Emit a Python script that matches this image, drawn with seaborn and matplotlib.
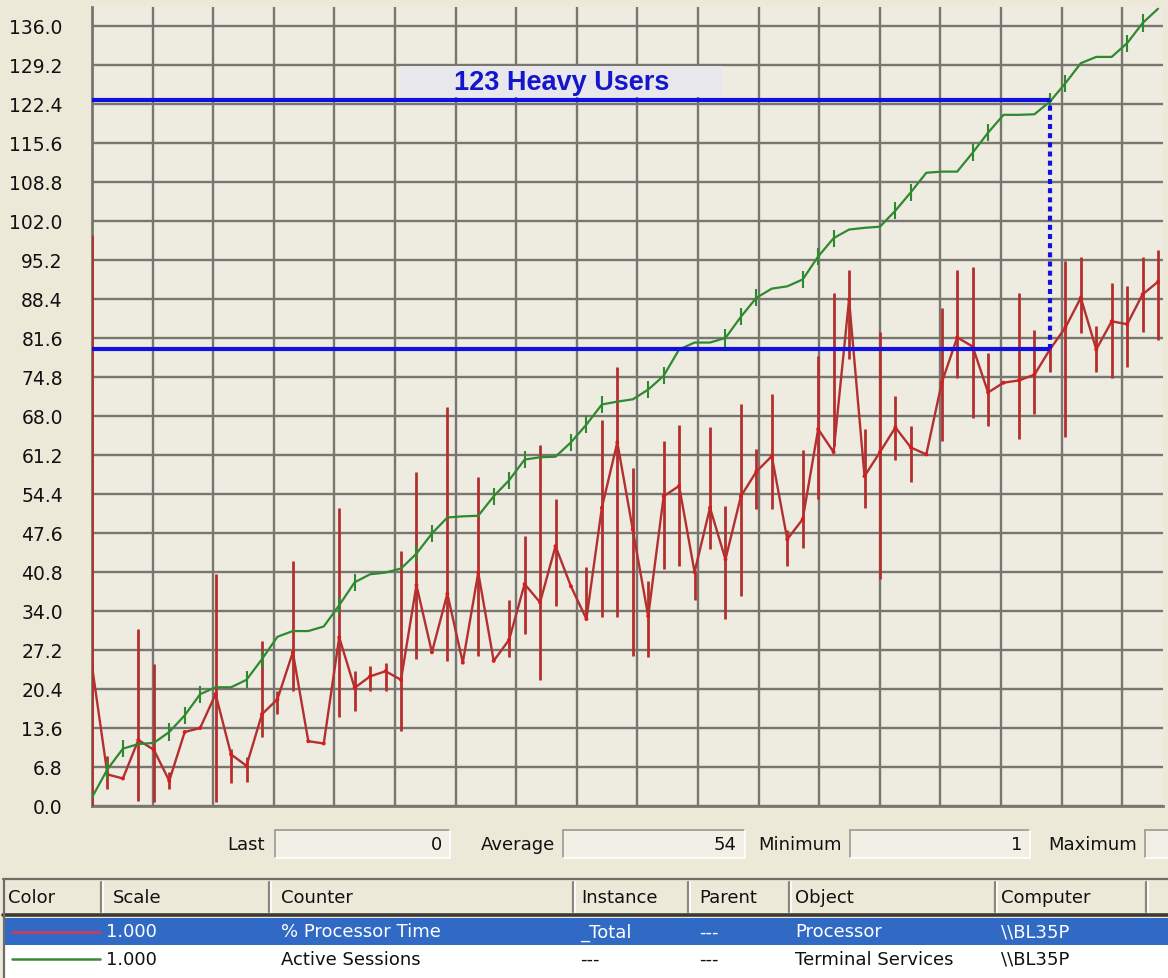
import numpy as np
import pandas as pd
import matplotlib
matplotlib.use("Agg")
import matplotlib.pyplot as plt
import seaborn as sns
from matplotlib.patches import Rectangle
from matplotlib.lines import Line2D

# ---------------- data ----------------
y_tick_values = [0.0, 6.8, 13.6, 20.4, 27.2, 34.0, 40.8, 47.6, 54.4, 61.2, 68.0,
                 74.8, 81.6, 88.4, 95.2, 102.0, 108.8, 115.6, 122.4, 129.2, 136.0]

# % Processor Time, one value per sample
cpu_time = [24.4, 5.5, 4.8, 11.5, 9.8, 4.4, 12.9, 13.6, 19.5, 9.0,
            7.0, 16.0, 18.6, 26.8, 11.3, 10.9, 29.4, 20.6, 22.6, 23.5,
            22.0, 38.5, 26.8, 37.0, 25.0, 40.7, 25.3, 29.0, 38.7, 35.5,
            45.3, 38.3, 32.6, 52.0, 63.4, 48.2, 33.1, 54.0, 55.8, 40.8,
            52.0, 43.0, 54.0, 58.3, 61.0, 46.5, 50.0, 65.7, 61.7, 88.3,
            57.5, 61.7, 66.0, 62.5, 61.3, 73.8, 81.7, 80.1, 72.1, 73.8,
            74.2, 75.2, 79.6, 83.4, 88.6, 79.6, 84.5, 84.0, 89.2, 91.4]

# Active Sessions, one value per sample
sessions = [1.5, 6.4, 10.0, 10.8, 11.0, 12.9, 15.8, 19.5, 20.7, 20.7,
            22.0, 25.6, 29.5, 30.5, 30.5, 31.3, 35.0, 39.0, 40.4, 40.7,
            41.4, 44.0, 47.5, 50.3, 50.5, 50.6, 54.0, 56.8, 60.4, 60.8,
            60.9, 63.4, 66.5, 70.0, 70.5, 70.9, 72.6, 75.0, 79.6, 80.8,
            80.8, 81.6, 85.3, 88.6, 90.2, 90.6, 91.8, 95.8, 99.0, 100.5,
            100.8, 101.0, 103.8, 107.0, 110.4, 110.6, 110.6, 113.9, 117.4, 120.5,
            120.5, 120.6, 122.8, 126.0, 129.5, 130.6, 130.6, 133.0, 136.5, 139.0]

# min/max excursions of % Processor Time within a sample interval
cpu_spike_idx = [0, 1, 3, 4, 5, 8, 9, 10, 11, 12, 13, 16, 17, 18, 19, 20, 21,
                 23, 25, 27, 28, 29, 30, 32, 33, 34, 35, 36, 37, 38, 39, 40, 41,
                 42, 43, 44, 45, 46, 47, 48, 49, 50, 51, 52, 53, 55, 56, 57, 58,
                 60, 61, 62, 63, 64, 65, 66, 67, 68, 69]
cpu_spike_high = [99.6, 8.7, 30.8, 24.7, 6.0, 40.5, 10.0, 8.5, 28.7, 20.0, 42.7,
                  52.0, 23.5, 24.4, 25.0, 44.4, 58.2, 69.5, 57.3, 36.0, 47.0, 63.0,
                  53.5, 41.6, 67.3, 76.6, 59.0, 39.2, 63.6, 66.5, 40.8, 66.0, 52.3,
                  70.0, 62.2, 71.8, 48.2, 62.0, 78.4, 89.5, 93.5, 65.7, 82.7, 71.4,
                  66.2, 86.9, 93.5, 93.9, 79.0, 89.5, 83.0, 80.0, 95.0, 95.8, 83.6,
                  91.2, 90.6, 95.8, 97.0]
cpu_spike_low = [0.0, 3.0, 0.9, 0.7, 3.0, 0.7, 4.0, 4.2, 12.0, 16.0, 20.0,
                 15.5, 16.5, 20.0, 20.0, 13.0, 25.6, 25.3, 26.1, 26.0, 30.0, 22.0,
                 34.8, 32.6, 32.9, 33.0, 26.1, 26.0, 41.3, 41.8, 36.0, 44.8, 32.6,
                 36.6, 51.7, 51.7, 41.8, 45.0, 53.5, 62.7, 78.0, 52.0, 39.5, 60.4,
                 56.4, 63.6, 74.7, 67.7, 66.2, 63.9, 68.3, 75.6, 64.4, 82.5, 75.6,
                 74.7, 76.6, 82.7, 81.3]

# small excursions of Active Sessions
session_tick_idx = [1, 2, 5, 6, 7, 10, 11, 16, 17, 21, 22, 26, 27, 28, 31, 32, 33,
                    36, 37, 41, 42, 43, 46, 47, 48, 52, 53, 57, 58, 62, 63, 67, 68]
session_tick_half = 1.5

heavy_users = 123.0
cpu_at_heavy = 79.6
heavy_sample = 62
annotation_text = "123 Heavy Users"

stats_labels = ["Last", "Average", "Minimum", "Maximum"]
stats_values = ["0", "54", "1", ""]

table_columns = ["Color", "Scale", "Counter", "Instance", "Parent", "Object", "Computer"]
table_rows = [
    ["1.000", "% Processor Time", "_Total", "---", "Processor", "\\\\BL35P"],
    ["1.000", "Active Sessions", "---", "---", "Terminal Services", "\\\\BL35P"],
]

# ---------------- style ----------------
BG = "#ECE9D8"
PLOT_BG = "#EEEBE1"
GRID = "#77776f"
RED = "#b3302f"
RED_DOT = "#e01818"
GREEN = "#2f8a2f"
BLUE = "#1010e0"
SEL = "#316AC5"

sns.set_style("white")
plt.rcParams["font.family"] = ["DejaVu Sans"]

W, H = 1168, 979
fig = plt.figure(figsize=(W / 100, H / 100), dpi=100, facecolor=BG)


def fx(px):
    return px / W


def fy(py):
    return 1 - py / H


ax_left, ax_right, ax_top, ax_bottom = 92, 1163, 8, 807
ax = fig.add_axes([fx(ax_left), fy(ax_bottom), fx(ax_right) - fx(ax_left), fy(ax_top) - fy(ax_bottom)])
ax.set_facecolor(PLOT_BG)

n = len(cpu_time)
samples = np.arange(n)
x_max = 69.32
grid_step = 3.922
ax.set_xlim(0, x_max)
ax.set_ylim(0, 139.3)

ax.set_xticks(np.arange(0, x_max, grid_step))
ax.set_yticks(y_tick_values)
ax.set_yticklabels([f"{v:.1f}" for v in y_tick_values], fontsize=13.5, color="#111111")
ax.tick_params(axis="x", length=0, labelbottom=False)
ax.tick_params(axis="y", length=0, pad=21)
ax.grid(True, color=GRID, lw=1.7, zorder=0)
ax.set_axisbelow(True)
for s in ["top", "right"]:
    ax.spines[s].set_visible(False)
for s in ["left", "bottom"]:
    ax.spines[s].set_color(GRID)
    ax.spines[s].set_linewidth(2.0)

df = pd.DataFrame({"sample": samples, "cpu": cpu_time, "sessions": sessions})

# red spikes
ax.vlines(cpu_spike_idx, cpu_spike_low, cpu_spike_high, color=RED, lw=2.0, zorder=3)
# red line
sns.lineplot(data=df, x="sample", y="cpu", color=RED, lw=1.7, ax=ax, zorder=4,
             estimator=None, legend=False)
sns.scatterplot(data=df, x="sample", y="cpu", color=RED_DOT, s=8, ax=ax, zorder=5,
                edgecolor="none", legend=False)

# green line and its small ticks
sess_arr = np.array(sessions)
ax.vlines(session_tick_idx, sess_arr[session_tick_idx] - session_tick_half,
          sess_arr[session_tick_idx] + session_tick_half, color=GREEN, lw=1.5, zorder=5)
sns.lineplot(data=df, x="sample", y="sessions", color=GREEN, lw=1.6, ax=ax, zorder=6,
             estimator=None, legend=False)
ax.set_xlabel("")
ax.set_ylabel("")

# blue markers
ax.hlines(heavy_users, 0, heavy_sample, color=BLUE, lw=3, zorder=7)
ax.hlines(cpu_at_heavy, 0, heavy_sample, color=BLUE, lw=3, zorder=7)
ax.vlines(heavy_sample, cpu_at_heavy, heavy_users, color=BLUE, lw=3,
          linestyles=(0, (1.2, 1.0)), zorder=7)

# annotation box + text (axes fraction)
ax.add_patch(Rectangle(((400 - ax_left) / (ax_right - ax_left), (ax_bottom - 98) / (ax_bottom - ax_top)),
                       322 / (ax_right - ax_left), 31 / (ax_bottom - ax_top),
                       transform=ax.transAxes, facecolor="#E7E7EC", edgecolor="none", zorder=6))
ax.text((562 - ax_left) / (ax_right - ax_left), (ax_bottom - 83) / (ax_bottom - ax_top), annotation_text,
        transform=ax.transAxes, ha="center", va="center", color="#1515cc",
        fontsize=19.5, fontweight="bold", family=["Liberation Sans", "DejaVu Sans"], zorder=8)

# ---------------- bottom panel ----------------
FS = 13


def frect(x0, y0, x1, y1, fc, ec="none", lw=0, z=1):
    fig.add_artist(Rectangle((fx(x0), fy(y1)), fx(x1) - fx(x0), fy(y0) - fy(y1),
                             transform=fig.transFigure, facecolor=fc, edgecolor=ec, lw=lw, zorder=z))


def fline(xs, ys, color, lw=1.0, z=2, ls="-"):
    fig.add_artist(Line2D([fx(v) for v in xs], [fy(v) for v in ys], transform=fig.transFigure,
                          color=color, lw=lw, zorder=z, linestyle=ls))


def sunken_box(x0, y0, x1, y1):
    frect(x0, y0, x1, y1, "#F1EFE6")
    fline([x0, x1], [y0, y0], "#9c9a90", 1.2, 3)
    fline([x0, x0], [y0, y1], "#9c9a90", 1.2, 3)
    fline([x0, x1], [y1, y1], "#ffffff", 1.2, 3)
    fline([x1, x1], [y0, y1], "#ffffff", 1.2, 3)


stat_y = 845
label_right = [265, 555, 842, 1137]
box_spans = [(275, 450), (563, 745), (850, 1030), (1145, 1175)]
for lab, val, lr, (b0, b1) in zip(stats_labels, stats_values, label_right, box_spans):
    fig.text(fx(lr), fy(stat_y), lab, ha="right", va="center", fontsize=FS, color="#111111")
    sunken_box(b0, stat_y - 14, b1, stat_y + 14)
    if val:
        fig.text(fx(b1 - 8), fy(stat_y), val, ha="right", va="center", fontsize=FS, color="#111111")

# table
hdr_top, hdr_bot = 880, 915
row1_top, row1_bot = 919, 946
row2_top, row2_bot = 947, 979
frect(3, row1_top, 1168, 979, "#ffffff", z=1)
frect(3, hdr_top, 1168, hdr_bot, BG, z=1)
frect(3, row1_top, 1168, row1_bot, SEL, z=2)
fline([3, 1168], [hdr_top, hdr_top], "#6e6c64", 1.6, 3)
fline([3, 1168], [hdr_bot + 1, hdr_bot + 1], "#3c3a34", 2.6, 3)
fline([4, 4], [hdr_top, 979], "#6e6c64", 1.6, 3)

col_sep = [101, 269, 573, 688, 789, 995, 1146]
col_text = [8, 113, 281, 581, 699, 795, 1001]
for sx in col_sep:
    fline([sx, sx], [hdr_top + 3, hdr_bot - 2], "#8a887e", 1.6, 3)
    fline([sx + 2, sx + 2], [hdr_top + 3, hdr_bot - 2], "#ffffff", 1.2, 3)
hdr_y = (hdr_top + hdr_bot) / 2 + 1
for name, tx in zip(table_columns, col_text):
    fig.text(fx(tx), fy(hdr_y), name, ha="left", va="center", fontsize=FS, color="#111111")

row_specs = [((row1_top + row1_bot) / 2, "#ffffff", "#d43a55"),
             ((row2_top + row2_bot) / 2 - 3, "#111111", "#3a8a3a")]
value_x = [106, 281, 580, 699, 795, 1001]
for (ry, tcolor, swatch), vals in zip(row_specs, table_rows):
    fline([12, 100], [ry, ry], swatch, 1.8, 4)
    for v, tx in zip(vals, value_x):
        fig.text(fx(tx), fy(ry), v, ha="left", va="center", fontsize=FS, color=tcolor, zorder=5)

fig.savefig("out.png", dpi=100, facecolor=BG)
